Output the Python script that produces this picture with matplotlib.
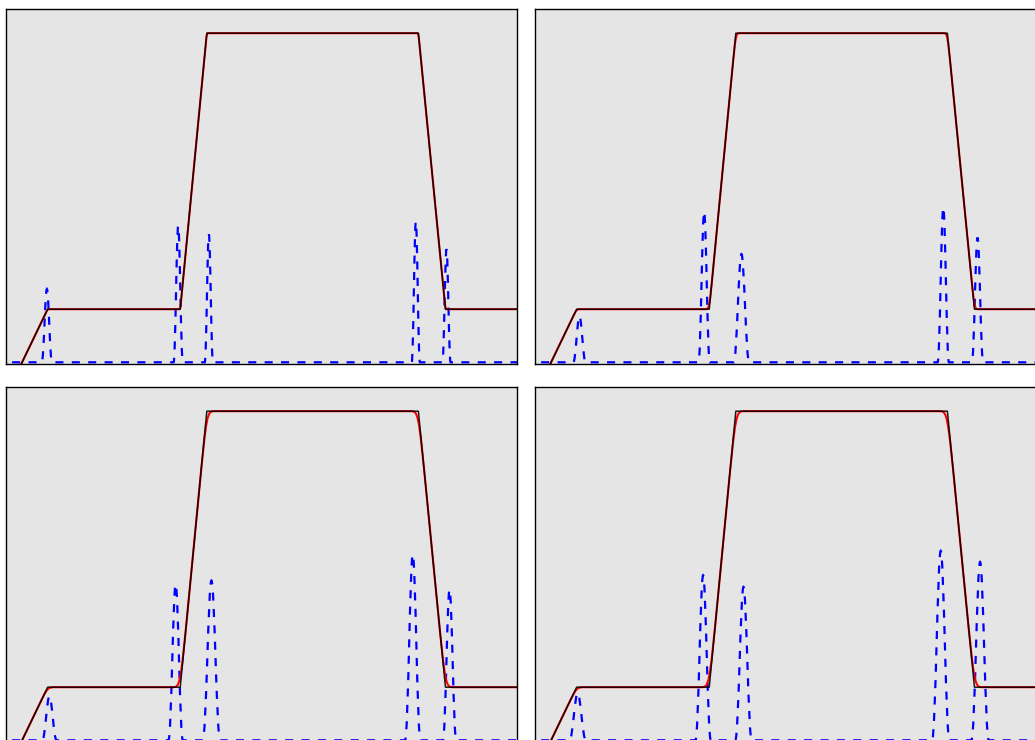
import numpy as np
import matplotlib
matplotlib.use("Agg")
import matplotlib.pyplot as plt
from matplotlib.path import Path
from matplotlib.patches import PathPatch

# ---- data ----
# piecewise-linear target (black), same in all four panels
knot_x = [0.25, 0.815, 3.41, 3.93, 8.07, 8.60, 10.6]
knot_y = [-0.13, 1.0, 1.0, 6.2, 6.2, 1.0, 1.0]

# blue dashed bumps per panel: centres, heights, half-widths
bump_c_tl = [0.80, 3.37, 3.97, 8.02, 8.62]
bump_h_tl = [1.38, 2.57, 2.41, 2.65, 2.13]
bump_w_tl = [0.10, 0.09, 0.08, 0.08, 0.08]

bump_c_tr = [0.87, 3.31, 4.04, 7.99, 8.66]
bump_h_tr = [0.87, 2.84, 2.04, 2.92, 2.35]
bump_w_tr = [0.12, 0.11, 0.15, 0.11, 0.11]

bump_c_bl = [0.85, 3.32, 4.02, 7.96, 8.68]
bump_h_bl = [0.83, 2.94, 3.01, 3.50, 2.84]
bump_w_bl = [0.14, 0.14, 0.17, 0.15, 0.13]

bump_c_br = [0.835, 3.29, 4.08, 7.94, 8.71]
bump_h_br = [0.89, 3.11, 2.89, 3.57, 3.36]
bump_w_br = [0.16, 0.15, 0.16, 0.17, 0.17]

baseline_start = 0.12
baseline_end = 10.6

# corner rounding half-width of the red (smoothed) curve per panel
round_tl, round_tr, round_bl, round_br = 0.025, 0.08, 0.16, 0.17

# ---- figure ----
W, H = 1035, 740
fig = plt.figure(figsize=(W / 100, H / 100), dpi=100)


def px_axes(left, top, width=511, height=355):
    return fig.add_axes([left / W, 1 - (top + height) / H, width / W, height / H])


def red_path(d):
    kx = np.array(knot_x)
    ky = np.array(knot_y)
    verts = [(kx[0], ky[0])]
    codes = [Path.MOVETO]
    for i in range(1, len(kx) - 1):
        k, yk = kx[i], ky[i]
        pin = (k - d, float(np.interp(k - d, kx, ky)))
        pout = (k + d, float(np.interp(k + d, kx, ky)))
        verts += [pin, (k, yk), (k, yk), pout]
        codes += [Path.LINETO, Path.CURVE4, Path.CURVE4, Path.CURVE4]
    verts.append((kx[-1], ky[-1]))
    codes.append(Path.LINETO)
    return Path(verts, codes)


def blue_path(cs, hs, ws):
    verts = [(baseline_start, 0.0)]
    codes = [Path.MOVETO]
    for c, h, w in zip(cs, hs, ws):
        verts += [(c - w, 0.0),
                  (c - 0.6 * w, 0.0), (c - 0.35 * w, h), (c, h),
                  (c + 0.35 * w, h), (c + 0.6 * w, 0.0), (c + w, 0.0)]
        codes += [Path.LINETO] + [Path.CURVE4] * 6
    verts.append((baseline_end, 0.0))
    codes.append(Path.LINETO)
    return Path(verts, codes)


panels = [
    (6, 9.3, bump_c_tl, bump_h_tl, bump_w_tl, round_tl),
    (535, 9.3, bump_c_tr, bump_h_tr, bump_w_tr, round_tr),
    (6, 387.3, bump_c_bl, bump_h_bl, bump_w_bl, round_bl),
    (535, 387.3, bump_c_br, bump_h_br, bump_w_br, round_br),
]

blue_lw = 1.6
blue_dash = (0, (5.8 / blue_lw, 6.0 / blue_lw))

for left, top, cs, hs, ws, d in panels:
    ax = px_axes(left, top)
    ax.set_facecolor("#e5e5e5")
    ax.add_patch(PathPatch(blue_path(cs, hs, ws), fill=False, edgecolor="#0000ff",
                           lw=blue_lw, linestyle=blue_dash, zorder=1))
    ax.add_patch(PathPatch(red_path(d), fill=False, edgecolor="#ff0000",
                           lw=1.5, zorder=2))
    ax.plot(knot_x, knot_y, color="black", lw=1.1, alpha=0.88, zorder=3)
    ax.set_xlim(0, 10)
    ax.set_ylim(-0.038, 6.65)
    ax.set_xticks([])
    ax.set_yticks([])
    for sp in ax.spines.values():
        sp.set_color("black")
        sp.set_linewidth(1.0)

fig.savefig("out.png", dpi=100)
